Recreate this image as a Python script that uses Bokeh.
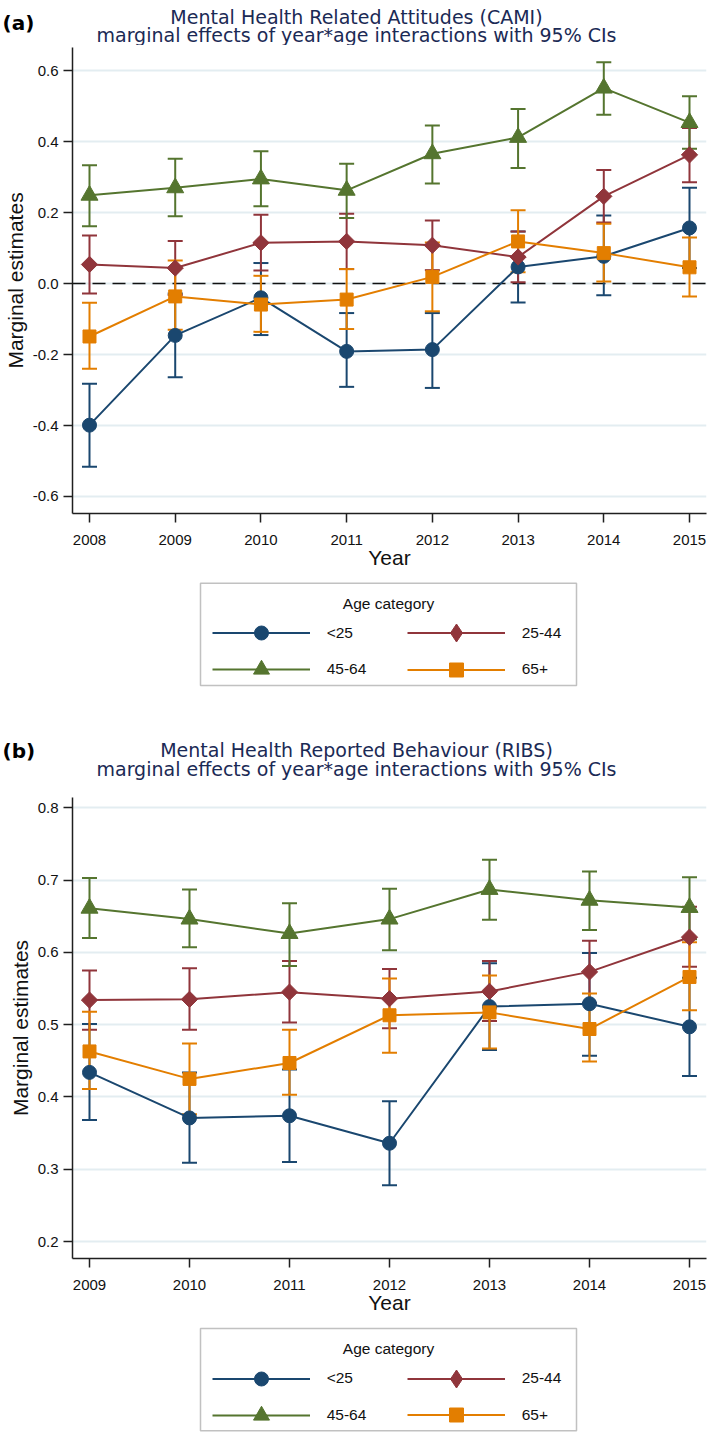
import numpy as np
from bokeh.plotting import figure
from bokeh.models import (ColumnDataSource, Whisker, TeeHead, Span, Label, Legend,
                          LegendItem, FixedTicker, NumeralTickFormatter, Range1d,
                          BoxAnnotation)
from bokeh.layouts import column
from bokeh.embed import file_html
from bokeh.resources import INLINE

# ---------------- data ----------------
groups = ["<25", "25-44", "45-64", "65+"]

# Panel (a): CAMI
years_a = [2008, 2009, 2010, 2011, 2012, 2013, 2014, 2015]
a_u25 = [-0.399, -0.146, -0.040, -0.191, -0.186, 0.047, 0.077, 0.157]
a_u25_lo = [-0.516, -0.264, -0.145, -0.291, -0.294, -0.053, -0.033, 0.044]
a_u25_hi = [-0.282, -0.028, 0.058, -0.083, -0.083, 0.147, 0.192, 0.270]
a_25_44 = [0.054, 0.044, 0.115, 0.119, 0.108, 0.075, 0.246, 0.363]
a_25_44_lo = [-0.028, -0.032, 0.037, 0.041, 0.038, 0.004, 0.172, 0.286]
a_25_44_hi = [0.136, 0.120, 0.194, 0.197, 0.178, 0.147, 0.320, 0.439]
a_45_64 = [0.249, 0.270, 0.295, 0.263, 0.366, 0.412, 0.551, 0.454]
a_45_64_lo = [0.162, 0.190, 0.218, 0.185, 0.282, 0.326, 0.476, 0.380]
a_45_64_hi = [0.334, 0.352, 0.373, 0.338, 0.446, 0.492, 0.624, 0.528]
a_65 = [-0.149, -0.036, -0.059, -0.045, 0.019, 0.119, 0.086, 0.046]
a_65_lo = [-0.240, -0.130, -0.136, -0.128, -0.078, 0.032, 0.006, -0.036]
a_65_hi = [-0.054, 0.065, 0.022, 0.041, 0.116, 0.207, 0.169, 0.130]
yticks_a = [-0.6, -0.4, -0.2, 0.0, 0.2, 0.4, 0.6]

# Panel (b): RIBS
years_b = [2009, 2010, 2011, 2012, 2013, 2014, 2015]
b_u25 = [0.434, 0.371, 0.374, 0.336, 0.525, 0.529, 0.497]
b_u25_lo = [0.368, 0.309, 0.310, 0.278, 0.465, 0.457, 0.429]
b_u25_hi = [0.501, 0.434, 0.438, 0.394, 0.585, 0.599, 0.565]
b_25_44 = [0.534, 0.535, 0.545, 0.536, 0.546, 0.573, 0.621]
b_25_44_lo = [0.493, 0.493, 0.503, 0.495, 0.505, 0.530, 0.580]
b_25_44_hi = [0.575, 0.578, 0.588, 0.577, 0.588, 0.616, 0.663]
b_45_64 = [0.661, 0.646, 0.626, 0.646, 0.687, 0.672, 0.662]
b_45_64_lo = [0.620, 0.607, 0.581, 0.603, 0.645, 0.631, 0.618]
b_45_64_hi = [0.703, 0.687, 0.668, 0.688, 0.728, 0.712, 0.704]
b_65 = [0.463, 0.425, 0.447, 0.513, 0.517, 0.494, 0.566]
b_65_lo = [0.411, 0.376, 0.403, 0.461, 0.467, 0.449, 0.520]
b_65_hi = [0.518, 0.474, 0.493, 0.564, 0.568, 0.543, 0.614]
yticks_b = [0.2, 0.3, 0.4, 0.5, 0.6, 0.7, 0.8]

title_a = ["Mental Health Related Attitudes (CAMI)",
           "marginal effects of year*age interactions with 95% CIs"]
title_b = ["Mental Health Reported Behaviour (RIBS)",
           "marginal effects of year*age interactions with 95% CIs"]
legend_title = "Age category"

# ---------------- style ----------------
FONT = "Liberation Sans"
TFONT = "DejaVu Sans"
colors = ["#1a476f", "#90353b", "#55752f", "#e37e00"]
markers = ["circle", "square", "triangle", "square"]
angles = [0.0, np.pi / 4, 0.0, 0.0]
msizes = [14, 11.5, 17, 13]
# legend key glyphs (bokeh draws legend markers unrotated, at 0.4 x key height)
leg_markers = ["circle", "diamond", "triangle", "square"]
leg_key_h = [35, 45, 40, 35]
leg_col_x = [211.7, 406.7, 211.7, 406.7]
leg_row = [0, 0, 1, 1]
TITLE_COLOR = "#1b2a55"
W = 709


def blank_fig(height):
    p = figure(width=W, height=height, x_range=Range1d(0, W), y_range=Range1d(0, height),
               output_backend="svg", toolbar_location=None,
               x_axis_location=None, y_axis_location=None,
               min_border=0, min_border_left=0, min_border_right=0,
               min_border_top=0, min_border_bottom=0, frame_align=False,
               outline_line_color=None, background_fill_color="white",
               border_fill_color="white")
    p.grid.visible = False
    return p


def head_fig(height, letter, lines, base_y, letter_y):
    p = blank_fig(height)
    for txt, y in zip(lines, base_y):
        p.add_layout(Label(x=356, y=y, text=txt, text_font=TFONT, text_font_size="19px",
                           text_color=TITLE_COLOR, text_align="center",
                           text_baseline="alphabetic"))
    p.add_layout(Label(x=2, y=letter_y, text=letter, text_font=TFONT,
                       text_font_size="20px", text_font_style="bold",
                       text_color="#000000", text_align="left",
                       text_baseline="alphabetic"))
    return p


def legend_fig(height, years, est, box_bottom, box_top, title_y, row_y):
    # the series renderers here lie outside this strip's ranges; they only feed the keys
    p = blank_fig(height)
    p.add_layout(BoxAnnotation(left=200, right=576, bottom=box_bottom, top=box_top,
                               fill_alpha=0.0, line_color="#333333", line_width=1.5,
                               level="underlay"))
    for k in range(4):
        src = ColumnDataSource(dict(x=years, y=est[k]))
        lr = p.line("x", "y", source=src, line_color=colors[k], line_width=2)
        sr = p.scatter("x", "y", source=src, marker=leg_markers[k], size=msizes[k],
                       fill_color=colors[k], line_color=colors[k])
        h = leg_key_h[k]
        leg = Legend(items=[LegendItem(label=groups[k], renderers=[lr, sr])],
                     location=(leg_col_x[k], row_y[leg_row[k]] - h / 2),
                     label_text_font=FONT, label_text_font_size="15.5px",
                     label_text_color="#111111",
                     glyph_width=98, glyph_height=h, label_standoff=17,
                     label_height=20, spacing=0, padding=0, margin=0,
                     border_line_color=None, background_fill_alpha=0.0)
        p.add_layout(leg)
    p.add_layout(Label(x=388, y=title_y, text=legend_title, text_font=FONT,
                       text_font_size="15.5px", text_color="#111111",
                       text_align="center", text_baseline="middle"))
    return p


def main_fig(years, est, lo, hi, x_rng, y_rng, yticks, height, zero_line):
    p = figure(width=W, height=height, x_range=Range1d(*x_rng), y_range=Range1d(*y_rng),
               output_backend="svg", toolbar_location=None,
               min_border_left=72, min_border_right=3,
               min_border_top=2, min_border_bottom=61, frame_align=False,
               outline_line_color=None, background_fill_color="white",
               border_fill_color="white")
    p.xgrid.visible = False
    p.ygrid.ticker = FixedTicker(ticks=yticks)
    p.ygrid.grid_line_color = "#e3edf1"
    p.ygrid.grid_line_width = 2

    p.xaxis.ticker = FixedTicker(ticks=years)
    p.yaxis.ticker = FixedTicker(ticks=yticks)
    p.yaxis.formatter = NumeralTickFormatter(format="0.0")
    p.xaxis.axis_label = "Year"
    p.yaxis.axis_label = "Marginal estimates"
    for ax in (p.xaxis[0], p.yaxis[0]):
        ax.axis_line_color = "#1f1f1f"
        ax.axis_line_width = 1.5
        ax.major_tick_line_color = "#1f1f1f"
        ax.major_tick_line_width = 1.5
        ax.major_tick_in = 0
        ax.major_tick_out = 9
        ax.minor_tick_in = 0
        ax.minor_tick_out = 0
        ax.major_label_text_font = FONT
        ax.major_label_text_font_size = "15px"
        ax.major_label_text_color = "#111111"
        ax.axis_label_text_font = FONT
        ax.axis_label_text_font_size = "21px"
        ax.axis_label_text_font_style = "normal"
        ax.axis_label_text_color = "#111111"
    p.xaxis.major_label_standoff = 12
    p.xaxis.axis_label_standoff = -2
    p.yaxis.major_label_standoff = 5
    p.yaxis.axis_label_standoff = 3

    if zero_line:
        p.add_layout(Span(location=0, dimension="width", line_color="#111111",
                          line_dash="13 7", line_width=1.5, level="underlay"))

    for k in range(4):
        src = ColumnDataSource(dict(x=years, lo=lo[k], hi=hi[k]))
        p.add_layout(Whisker(source=src, base="x", lower="lo", upper="hi",
                             dimension="height", line_color=colors[k], line_width=2,
                             level="underlay",
                             upper_head=TeeHead(size=15, line_color=colors[k], line_width=2),
                             lower_head=TeeHead(size=15, line_color=colors[k], line_width=2)))
    for k in range(4):
        src = ColumnDataSource(dict(x=years, y=est[k]))
        p.line("x", "y", source=src, line_color=colors[k], line_width=2)
        p.scatter("x", "y", source=src, marker=markers[k], size=msizes[k],
                  angle=angles[k], fill_color=colors[k], line_color=colors[k])
    return p


est_a = [a_u25, a_25_44, a_45_64, a_65]
est_b = [b_u25, b_25_44, b_45_64, b_65]

head_a = head_fig(45, "(a)", title_a, (29.0, 10.7), 22.6)
main_a = main_fig(years_a, est_a,
                  [a_u25_lo, a_25_44_lo, a_45_64_lo, a_65_lo],
                  [a_u25_hi, a_25_44_hi, a_45_64_hi, a_65_hi],
                  (2007.8017, 2015.1983), (-0.648, 0.6656), yticks_a, 529, True)
leg_a = legend_fig(159, years_a, est_a, 48.0, 150.3, 130.0, (100.3, 63.7))

head_b = head_fig(62, "(b)", title_b, (45.5, 26.5), 44.3)
main_b = main_fig(years_b, est_b,
                  [b_u25_lo, b_25_44_lo, b_45_64_lo, b_65_lo],
                  [b_u25_hi, b_25_44_hi, b_45_64_hi, b_65_hi],
                  (2008.83, 2015.17), (0.1766, 0.8142), yticks_b, 524, False)
leg_b = legend_fig(121, years_b, est_b, 9.7, 112.0, 91.7, (62.0, 25.4))

layout = column(head_a, main_a, leg_a, head_b, main_b, leg_b)
open("out.html", "w").write(file_html(layout, INLINE))
